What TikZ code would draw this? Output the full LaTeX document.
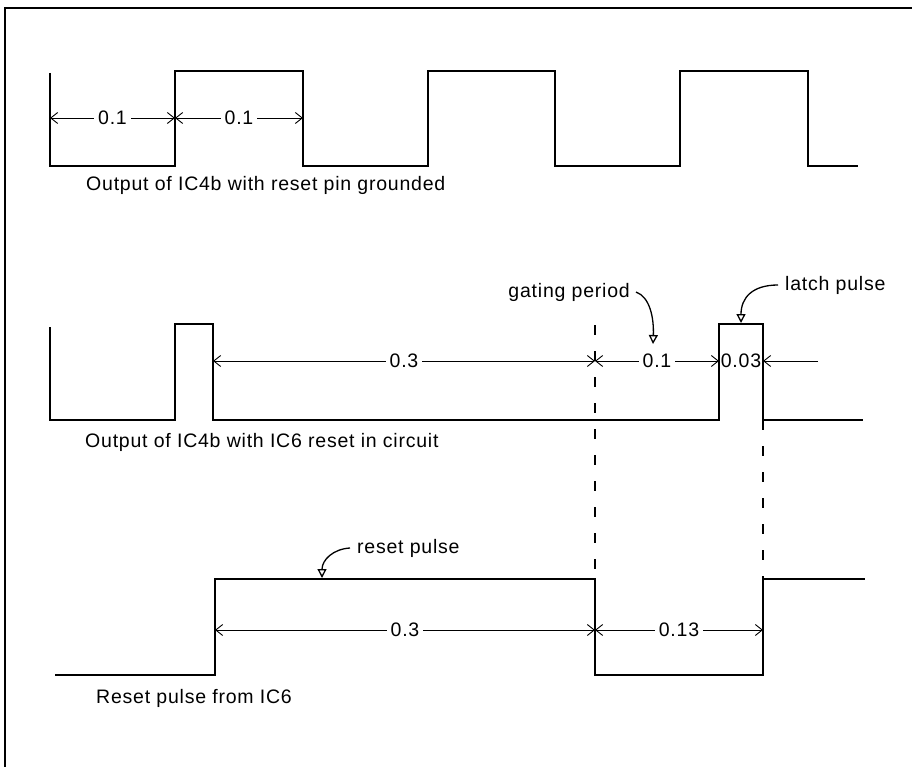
\documentclass[tikz,border=0pt]{standalone}
\usepackage{fontspec}
\setmainfont[LetterSpace=4]{Liberation Sans}
\usetikzlibrary{arrows.meta}
\tikzset{
  wave/.style={line width=1.8pt},
  dim/.style={line width=0.9pt,{Straight Barb[length=7pt,width=11pt]}-{Straight Barb[length=7pt,width=11pt]}},
  dimone/.style={line width=0.9pt,-{Straight Barb[length=7pt,width=11pt]}},
  guide/.style={line width=1.3pt,dash pattern=on 10pt off 16pt},
  lead/.style={line width=1.3pt,-{Triangle[open,length=9pt,width=9pt]}},
  txt/.style={font=\fontsize{19.5}{22}\selectfont,inner sep=0pt},
  num/.style={txt,fill=white,inner sep=4pt},
}
\begin{document}
\begin{tikzpicture}[x=1pt,y=-1pt]
        \useasboundingbox (0,0) rectangle (912,767);
        \draw[line width=1.5pt] (5,767) -- (5,8) -- (912,8);

        % output of IC4b, reset pin grounded
        \draw[wave] (50,73) -- (50,166) -- (175,166) -- (175,71) -- (303,71) -- (303,166)
            -- (428,166) -- (428,71) -- (555,71) -- (555,166) -- (680,166) -- (680,71)
            -- (808,71) -- (808,166) -- (858,166);
        \coordinate (a0) at (50,118);
        \coordinate (a1) at (175,118);
        \coordinate (a2) at (303,118);
        \draw[dim] (a0) -- node[num] (da1) {0.1} (a1);
        \draw[dim] (a1) -- node[num] (da2) {0.1} (a2);
        \node (capA) at (86,185) [txt,anchor=west] {Output of IC4b with reset pin grounded};

        % output of IC4b, IC6 reset in circuit
        \draw[wave] (50,327) -- (50,420) -- (175,420) -- (175,324) -- (213,324) -- (213,420)
            -- (719,420) -- (719,324) -- (763,324) -- (763,420) -- (863,420);
        \coordinate (b0) at (213,361);
        \coordinate (b1) at (595,361);
        \coordinate (b2) at (719,361);
        \coordinate (b3) at (763,361);
        \coordinate (b4) at (818,361);
        \draw[dim] (b0) -- node[num] (db1) {0.3} (b1);
        \draw[dim] (b1) -- node[num] (db2) {0.1} (b2);
        \node (db3) at (741,361) [txt] {0.03};
        \draw[dimone] (b4) -- (b3);
        \node (capB) at (85,442) [txt,anchor=west] {Output of IC4b with IC6 reset in circuit};

        \node (gp) at (630,292) [txt,anchor=east] {gating period};
        \coordinate (gptip) at (653,344);
        \draw[lead] ([xshift=6pt]gp.east) .. controls (650,297) and (654,318) .. (gptip);
        \node (lp) at (785,285) [txt,anchor=west] {latch pulse};
        \coordinate (lptip) at (741,323);
        \draw[lead] ([xshift=-7pt]lp.west) .. controls (752,285) and (741,298) .. (lptip);

        % gating edges
        \draw[guide] (595,325) -- (595,579);
        \draw[guide] (763,420) -- (763,579);

        % reset pulse from IC6
        \draw[wave] (55,675) -- (215,675) -- (215,579) -- (595,579) -- (595,675)
            -- (763,675) -- (763,579) -- (865,579);
        \coordinate (c0) at (215,630);
        \coordinate (c1) at (595,630);
        \coordinate (c2) at (763,630);
        \draw[dim] (c0) -- node[num] (dc1) {0.3} (c1);
        \draw[dim] (c1) -- node[num] (dc2) {0.13} (c2);
        \node (capC) at (96,698) [txt,anchor=west] {Reset pulse from IC6};

        \node (rp) at (357,548) [txt,anchor=west] {reset pulse};
        \coordinate (rptip) at (322,578);
        \draw[lead] ([xshift=-7pt]rp.west) .. controls (333,549) and (322,560) .. (rptip);
      \end{tikzpicture}
\end{document}
